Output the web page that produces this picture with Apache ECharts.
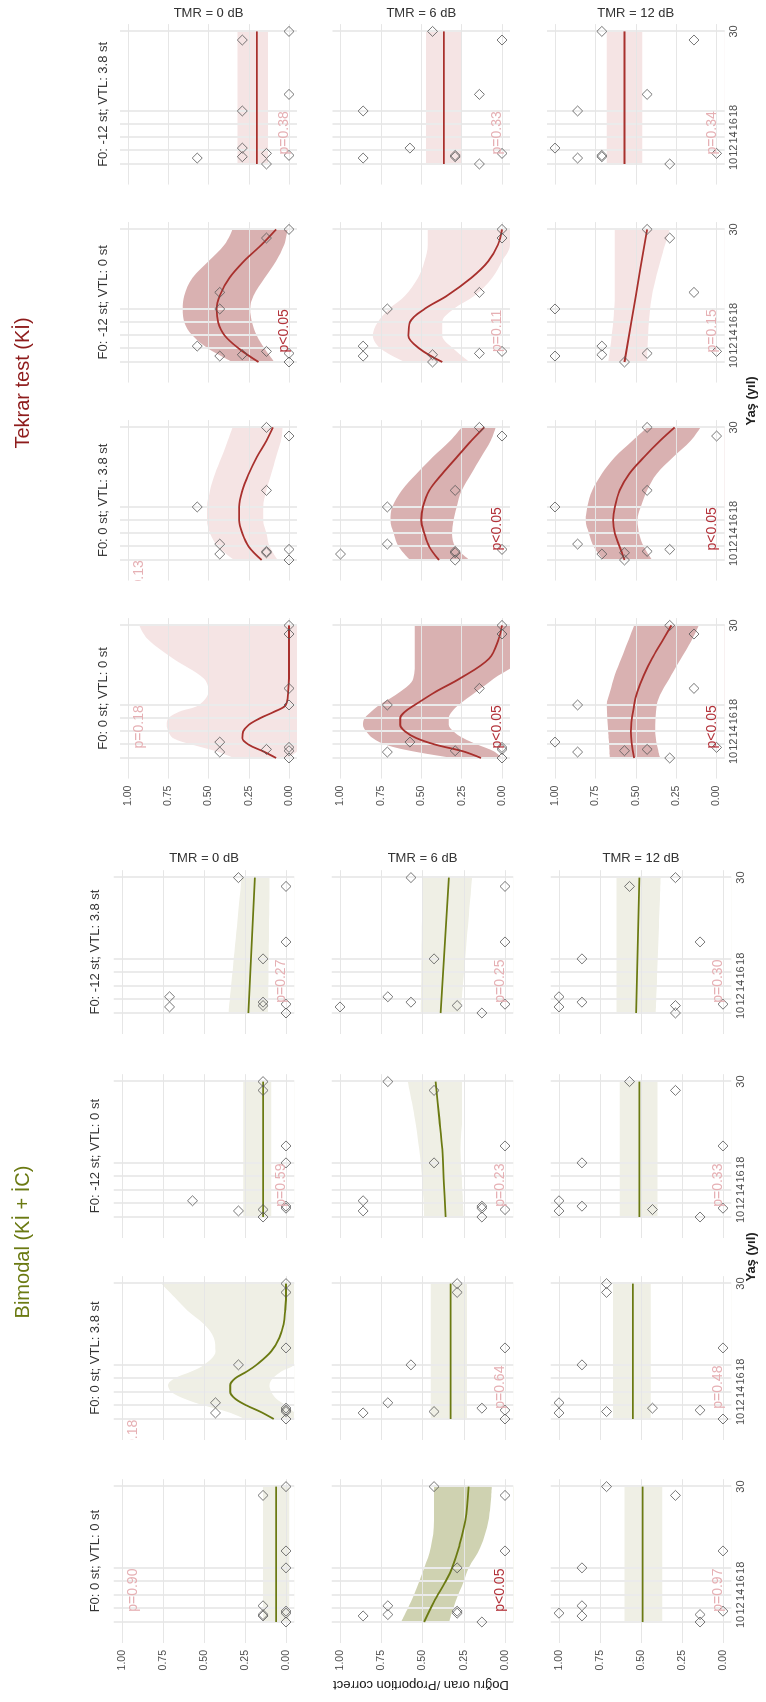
<!DOCTYPE html>
<html><head><meta charset="utf-8">
<script src="https://cdn.jsdelivr.net/npm/echarts@6/dist/echarts.min.js"></script>
<style>
html,body{margin:0;padding:0;width:766px;height:1702px;overflow:hidden;background:#fff;}
#chart{position:absolute;left:0;top:0;width:1702px;height:766px;transform-origin:0 0;transform:translateY(1702px) rotate(-90deg);}
</style></head><body><div id="chart"></div>
<script>
// ---------- shared categories / ticks ----------
const AGE_TICKS = [10, 12, 14, 16, 18, 30];
const PROP_TICKS = [0, 0.25, 0.5, 0.75, 1];
const AGES = [10.0, 10.9, 11.1, 11.3, 11.6, 12.4, 18.0, 20.5, 28.7, 30.0];
const PANEL_TITLES = ['Bimodal (Kİ + İC)', 'Tekrar test (Kİ)'];
const CONDITIONS = ['F0: 0 st; VTL: 0 st', 'F0: 0 st; VTL: 3.8 st', 'F0: -12 st; VTL: 0 st', 'F0: -12 st; VTL: 3.8 st'];
const TMR_LEVELS = ['TMR = 0 dB', 'TMR = 6 dB', 'TMR = 12 dB'];
const X_TITLE = 'Yaş (yıl)';
const Y_TITLE = 'Doğru oran /Proportion correct';

// p-value labels [condition][tmr]
const bi_pvals = [['p=0.90', 'p<0.05', 'p=0.97'], ['p=0.18', 'p=0.64', 'p=0.48'], ['p=0.59', 'p=0.23', 'p=0.33'], ['p=0.27', 'p=0.25', 'p=0.30']];
const te_pvals = [['p=0.18', 'p<0.05', 'p<0.05'], ['p=0.13', 'p<0.05', 'p<0.05'], ['p<0.05', 'p=0.11', 'p=0.15'], ['p=0.38', 'p=0.33', 'p=0.34']];
// p-label anchor [age, proportion] by [condition][tmr]
const P_ANCHOR = [[[14.7, 0.93], [14.7, 0.03], [14.7, 0.03]], [[6.7, 0.93], [14.7, 0.03], [14.7, 0.03]], [[14.7, 0.03], [14.7, 0.03], [14.7, 0.03]], [[14.7, 0.03], [14.7, 0.03], [14.7, 0.03]]];

// ---------- Bimodal (Kİ + İC): points (proportion per participant, order of AGES) ----------
const bi_c0_t0_pts = [0, .14, .14, 0, 0, .14, 0, 0, .14, 0];
const bi_c0_t1_pts = [.14, .86, .71, .29, .29, .71, .29, 0, 0, .43];
const bi_c0_t2_pts = [.14, .86, .14, 1, 0, .86, .86, 0, .29, .71];
const bi_c1_t0_pts = [0, .43, 0, 0, 0, .43, .29, 0, 0, 0];
const bi_c1_t1_pts = [0, .86, .43, 0, .14, .71, .57, 0, .29, .29];
const bi_c1_t2_pts = [0, 1, .71, .14, .43, 1, .86, 0, .71, .71];
const bi_c2_t0_pts = [.14, .29, .14, 0, 0, .57, 0, 0, .14, .14];
const bi_c2_t1_pts = [.14, .86, 0, .14, .14, .86, .43, 0, .43, .71];
const bi_c2_t2_pts = [.14, 1, .43, 0, .86, 1, .86, 0, .29, .57];
const bi_c3_t0_pts = [0, .71, .14, 0, .14, .71, .14, 0, 0, .29];
const bi_c3_t1_pts = [.14, 1, .29, 0, .57, .71, .43, 0, 0, .57];
const bi_c3_t2_pts = [.29, 1, .29, 0, .86, 1, .86, .14, .57, .29];
// fits: [age, fit, lower, upper]
const bi_c0_t0_fit = [[10, .06, -.02, .14], [30, .06, -.02, .14]];
const bi_c0_t1_fit = [[10, .49, .34, .63], [13, .43, .3, .57], [16, .36, .25, .52], [18, .32, .22, .49], [21, .28, .15, .45], [25, .24, .1, .43], [30, .22, .08, .43]];
const bi_c0_t2_fit = [[10, .49, .37, .6], [30, .49, .37, .6]];
const bi_c1_t0_fit = [[10, .075, -.1, .25], [11, .15, -.05, .35], [12, .24, 0, .5], [13, .31, .06, .62], [14, .34, .09, .7], [15, .34, .1, .72], [16, .31, .08, .68], [17, .24, .03, .58], [18, .18, -.05, .5], [20, .09, -.1, .43], [22, .04, -.1, .44], [24, .015, -.1, .5], [26, .005, -.1, .6], [28, 0, -.1, .68], [30, 0, -.1, .76]];
const bi_c1_t1_fit = [[10, .33, .23, .45], [30, .33, .23, .45]];
const bi_c1_t2_fit = [[10, .55, .44, .67], [30, .55, .44, .67]];
const bi_c2_t0_fit = [[10, .14, .09, .26], [30, .14, .09, .26]];
const bi_c2_t1_fit = [[10, .36, .25, .49], [15, .37, .26, .5], [20, .38, .27, .52], [25, .4, .26, .55], [30, .42, .26, .59]];
const bi_c2_t2_fit = [[10, .51, .4, .63], [30, .51, .4, .63]];
const bi_c3_t0_fit = [[10, .23, .11, .35], [30, .19, .1, .27]];
const bi_c3_t1_fit = [[10, .39, .27, .51], [30, .34, .2, .5]];
const bi_c3_t2_fit = [[10, .53, .41, .65], [30, .51, .38, .65]];

// ---------- Tekrar test (Kİ) ----------
const te_c0_t0_pts = [0, .43, 0, .14, 0, .43, 0, 0, 0, 0];
const te_c0_t1_pts = [0, .71, .29, 0, 0, .57, .71, .14, 0, 0];
const te_c0_t2_pts = [.29, .86, .57, .43, 0, 1, .86, .14, .14, .29];
const te_c1_t0_pts = [0, .43, .14, .14, 0, .43, .57, .14, 0, .14];
const te_c1_t1_pts = [.29, 1, .29, .29, 0, .71, .71, .29, 0, .14];
const te_c1_t2_pts = [.57, .71, .57, .43, .29, .86, 1, .43, 0, .43];
const te_c2_t0_pts = [0, .43, .29, 0, .14, .57, .43, .43, .14, 0];
const te_c2_t1_pts = [.43, .86, .43, .14, 0, .86, .71, .14, 0, 0];
const te_c2_t2_pts = [.57, 1, .71, .43, 0, .71, 1, .14, .29, .43];
const te_c3_t0_pts = [.14, .57, .29, 0, .14, .29, .29, 0, .29, 0];
const te_c3_t1_pts = [.14, .86, .29, .29, 0, .57, .86, .14, 0, .43];
const te_c3_t2_pts = [.29, .86, .71, .71, 0, 1, .86, .43, .14, .71];
const te_c0_t0_fit = [[10, .08, 0, .34], [11, .16, -.05, .45], [12, .25, -.1, .6], [13, .29, -.1, .72], [14, .285, -.1, .75], [15, .25, -.1, .76], [16, .18, -.1, .75], [17, .09, -.1, .68], [18, .02, -.1, .56], [20, .005, -.1, .5], [22, 0, -.1, .53], [25, 0, -.1, .72], [28, 0, -.1, .88], [30, 0, -.1, .93]];
const te_c0_t1_fit = [[10, .13, 0, .3], [11, .24, .05, .55], [12, .41, .15, .72], [13, .53, .24, .8], [14, .6, .3, .84], [15, .63, .33, .86], [16, .63, .33, .85], [17, .6, .31, .81], [18, .54, .27, .76], [20, .41, .16, .63], [22, .26, .05, .55], [25, .08, -.1, .54], [28, .02, -.1, .54], [30, 0, -.1, .54]];
const te_c0_t2_fit = [[10, .51, .35, .66], [14, .53, .38, .67], [18, .51, .37, .68], [20, .49, .34, .66], [22.5, .45, .28, .63], [25, .4, .22, .59], [27.5, .34, .16, .55], [30, .28, .11, .51]];
const te_c1_t0_fit = [[10, .17, .07, .34], [12, .25, .12, .44], [14, .29, .14, .49], [16, .31, .16, .51], [18, .31, .16, .51], [20.5, .29, .14, .49], [23, .25, .11, .46], [25.5, .2, .08, .42], [28, .14, .05, .38], [30, .1, .04, .35]];
const te_c1_t1_fit = [[10, .39, .2, .57], [12, .45, .29, .64], [14, .48, .31, .67], [16, .5, .3, .69], [18, .49, .28, .68], [20.5, .45, .25, .62], [23, .37, .19, .53], [25.5, .28, .13, .43], [28, .19, .07, .32], [30, .11, .04, .25]];
const te_c1_t2_fit = [[10, .57, .4, .7], [12, .6, .45, .76], [14, .63, .48, .79], [16, .64, .49, .81], [18, .63, .47, .8], [20.5, .6, .43, .77], [23, .54, .37, .71], [25.5, .45, .27, .63], [28, .35, .16, .52], [30, .26, .1, .43]];
const te_c2_t0_fit = [[10, .19, .09, .35], [12, .31, .15, .5], [14, .4, .2, .6], [16, .44, .23, .65], [18, .45, .24, .66], [20, .43, .22, .65], [22.7, .37, .15, .6], [25.2, .28, .08, .5], [27.7, .17, .03, .4], [30, .08, .01, .35]];
const te_c2_t1_fit = [[10, .37, .2, .6], [12, .51, .3, .75], [14, .58, .37, .8], [16, .57, .37, .77], [18, .48, .3, .7], [20, .34, .17, .6], [22.7, .19, .06, .52], [25.2, .085, 0, .48], [27.7, .025, -.05, .46], [30, 0, -.05, .46]];
const te_c2_t2_fit = [[10, .57, .43, .67], [20, .5, .4, .63], [30, .43, .29, .63]];
const te_c3_t0_fit = [[10, .2, .13, .32], [30, .2, .13, .32]];
const te_c3_t1_fit = [[10, .36, .25, .47], [30, .36, .25, .47]];
const te_c3_t2_fit = [[10, .57, .46, .68], [30, .57, .46, .68]];

// ---------- layout & style (not data) ----------
const FONT = '"Liberation Sans", Arial, Helvetica, sans-serif';
const X_MIN = 6.9, X_MAX = 31.1, Y_MIN = -0.05, Y_MAX = 1.05;
const LAYOUT = {
  bi: { age10: [80, 283, 485, 689], pxYear: 6.77, prop1: [122, 340, 559], pxUnit: [164, 165, 164], stripY: 95, tmrX: 844, titleX: 460, axisTitleX: 445 },
  te: { age10: [944, 1142, 1340, 1538], pxYear: 6.63, prop1: [128, 340.5, 555], pxUnit: [161, 161.5, 161.6], stripY: 103, tmrX: 1689, titleX: 1319, axisTitleX: 1301 }
};
const STYLE = {
  bi: { line: '#6b7a12', bandSig: '#cfd2b1', bandNs: '#efefe5', title: '#6b7a12' },
  te: { line: '#a8302d', bandSig: '#d9b1b1', bandNs: '#f5e4e4', title: '#8e1c1c' }
};
const P_SIG = '#b3323a', P_NS = '#e6b0b4';

const SRC = {
  bi: {
    pts: [[bi_c0_t0_pts, bi_c0_t1_pts, bi_c0_t2_pts], [bi_c1_t0_pts, bi_c1_t1_pts, bi_c1_t2_pts], [bi_c2_t0_pts, bi_c2_t1_pts, bi_c2_t2_pts], [bi_c3_t0_pts, bi_c3_t1_pts, bi_c3_t2_pts]],
    fit: [[bi_c0_t0_fit, bi_c0_t1_fit, bi_c0_t2_fit], [bi_c1_t0_fit, bi_c1_t1_fit, bi_c1_t2_fit], [bi_c2_t0_fit, bi_c2_t1_fit, bi_c2_t2_fit], [bi_c3_t0_fit, bi_c3_t1_fit, bi_c3_t2_fit]],
    pv: bi_pvals
  },
  te: {
    pts: [[te_c0_t0_pts, te_c0_t1_pts, te_c0_t2_pts], [te_c1_t0_pts, te_c1_t1_pts, te_c1_t2_pts], [te_c2_t0_pts, te_c2_t1_pts, te_c2_t2_pts], [te_c3_t0_pts, te_c3_t1_pts, te_c3_t2_pts]],
    fit: [[te_c0_t0_fit, te_c0_t1_fit, te_c0_t2_fit], [te_c1_t0_fit, te_c1_t1_fit, te_c1_t2_fit], [te_c2_t0_fit, te_c2_t1_fit, te_c2_t2_fit], [te_c3_t0_fit, te_c3_t1_fit, te_c3_t2_fit]],
    pv: te_pvals
  }
};

const SMOOTH = 0.35;
const TXT = (extra) => Object.assign({ fontFamily: FONT, align: 'center', verticalAlign: 'middle', textAlign: 'center', textVerticalAlign: 'middle' }, extra);

const grids = [], xAxes = [], yAxes = [], series = [], graphics = [];
['bi', 'te'].forEach((key, pi) => {
  const L = LAYOUT[key], S = STYLE[key], D = SRC[key];
  for (let c = 0; c < 4; c++) {
    for (let t = 0; t < 3; t++) {
      const gi = grids.length;
      const left = L.age10[c] - (10 - X_MIN) * L.pxYear;
      const width = (X_MAX - X_MIN) * L.pxYear;
      const top = L.prop1[t] - (Y_MAX - 1) * L.pxUnit[t];
      const height = (Y_MAX - Y_MIN) * L.pxUnit[t];
      grids.push({ left, top, width, height });
      xAxes.push({
        gridIndex: gi, type: 'value', min: X_MIN, max: X_MAX,
        axisLine: { show: false }, axisTick: { show: false }, splitLine: { show: false },
        axisLabel: { show: t === 2, customValues: AGE_TICKS, fontSize: 11, color: '#4d4d4d', fontFamily: FONT, margin: 4 }
      });
      yAxes.push({
        gridIndex: gi, type: 'value', min: Y_MIN, max: Y_MAX,
        axisLine: { show: false }, axisTick: { show: false }, splitLine: { show: false },
        axisLabel: { show: c === 0, customValues: PROP_TICKS, fontSize: 10.5, color: '#4d4d4d', fontFamily: FONT, margin: 7, formatter: v => v.toFixed(2) }
      });
      const pv = D.pv[c][t];
      const sig = pv.indexOf('<') >= 0;
      const fit = D.fit[c][t];
      const base = { xAxisIndex: gi, yAxisIndex: gi, silent: true };
      // ribbon: upper bound filled down to axis start, then masked below lower bound
      series.push(Object.assign({
        type: 'line', data: fit.map(r => [r[0], r[3]]), symbol: 'none', smooth: SMOOTH,
        lineStyle: { opacity: 0 }, areaStyle: { color: sig ? S.bandSig : S.bandNs, opacity: 1, origin: 'start' }, z: 1
      }, base));
      series.push(Object.assign({
        type: 'line', data: fit.map(r => [r[0], r[2]]), symbol: 'none', smooth: SMOOTH,
        lineStyle: { opacity: 0 }, areaStyle: { color: '#ffffff', opacity: 1, origin: 'start' }, z: 2
      }, base));
      // grid lines
      series.push(Object.assign({
        type: 'line', data: [], z: 3,
        markLine: {
          silent: true, symbol: ['none', 'none'], animation: false, label: { show: false }, z: 3,
          emphasis: { disabled: true },
          data: AGE_TICKS.map(v => ({ xAxis: v, lineStyle: { color: '#ebebeb', width: 2, type: 'solid' } }))
            .concat(PROP_TICKS.map(v => ({ yAxis: v, lineStyle: { color: '#e6e6e6', width: 1, type: 'solid' } })))
        }
      }, base));
      // fitted line
      series.push(Object.assign({
        type: 'line', data: fit.map(r => [r[0], r[1]]),
        symbol: 'none', smooth: SMOOTH, lineStyle: { color: S.line, width: 1.8 }, z: 4
      }, base));
      // participants
      series.push(Object.assign({
        type: 'scatter', data: D.pts[c][t].map((v, i) => [AGES[i], v]),
        symbol: 'diamond', symbolSize: 10, itemStyle: { color: 'rgba(0,0,0,0)', borderColor: '#555', borderWidth: 1 }, z: 5
      }, base));
      // p label
      const anchor = P_ANCHOR[c][t];
      series.push(Object.assign({
        type: 'custom', clip: true, z: 6, data: [anchor],
        renderItem: (params, api) => {
          const pt = api.coord([api.value(0), api.value(1)]);
          return { type: 'text', x: pt[0], y: pt[1], style: TXT({ text: pv, fill: sig ? P_SIG : P_NS, fontSize: 14 }) };
        }
      }, base));
      if (c === 3) {
        graphics.push({ type: 'text', x: L.tmrX, y: top + height / 2, rotation: -Math.PI / 2,
          style: TXT({ text: TMR_LEVELS[t], fill: '#333', fontSize: 13 }) });
      }
      if (t === 0) {
        graphics.push({ type: 'text', x: left + width / 2, y: L.stripY,
          style: TXT({ text: CONDITIONS[c], fill: '#333', fontSize: 13 }) });
      }
    }
  }
  graphics.push({ type: 'text', x: L.titleX, y: 23, style: TXT({ text: PANEL_TITLES[pi], fill: S.title, fontSize: 20 }) });
  graphics.push({ type: 'text', x: L.axisTitleX, y: 751, style: TXT({ text: X_TITLE, fill: '#222', fontSize: 13, fontWeight: 'bold' }) });
});
graphics.push({ type: 'text', x: 17, y: 421, rotation: Math.PI / 2, style: TXT({ text: Y_TITLE, fill: '#222', fontSize: 13 }) });

const chart = echarts.init(document.getElementById('chart'), null, { renderer: 'canvas', width: 1702, height: 766 });
chart.setOption({
  animation: false,
  backgroundColor: '#ffffff',
  grid: grids, xAxis: xAxes, yAxis: yAxes, series: series, graphic: graphics
});
</script></body></html>
